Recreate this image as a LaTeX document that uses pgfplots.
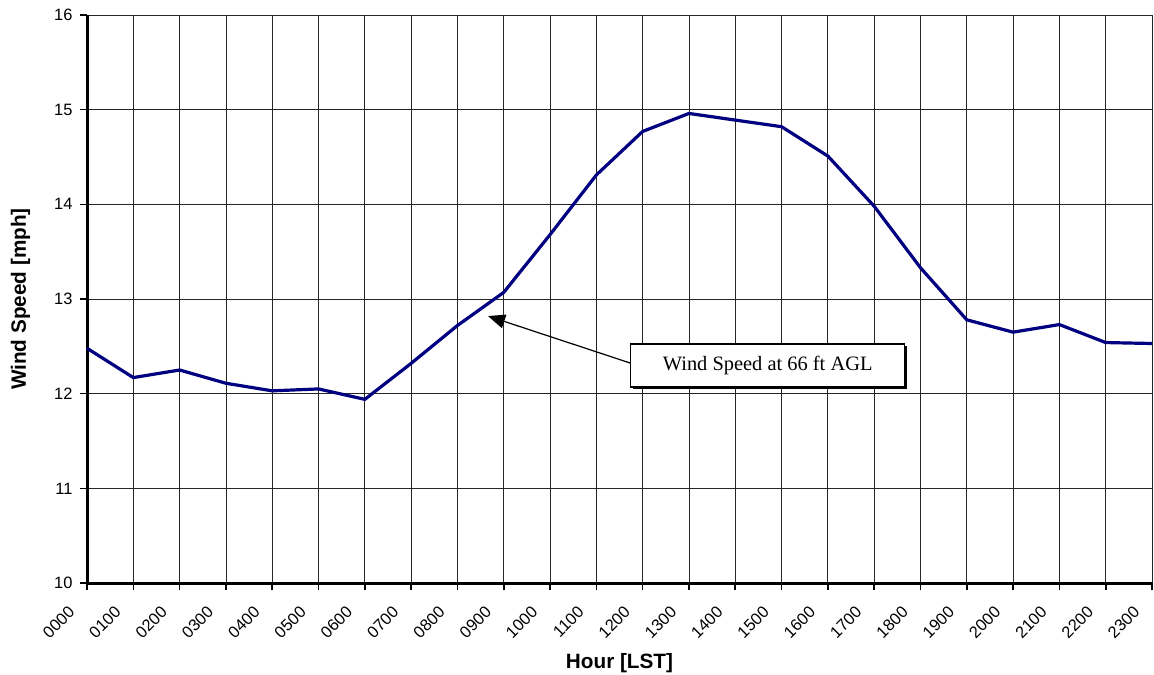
\documentclass[border=0pt]{standalone}
\usepackage{pgfplots}
\pgfplotsset{compat=1.18}
\usepackage{fontspec}
\setmainfont{Liberation Sans}
\newfontfamily\timesfont{Liberation Serif}
\usetikzlibrary{arrows.meta,shadows}
\definecolor{navyline}{RGB}{0,0,128}

\begin{document}
\begin{tikzpicture}
    \begin{axis}[
            scale only axis,
            width = 1065bp, height = 568bp,
            xmin = 0, xmax = 23, %
            ymin = 10, ymax = 16, %
            xtick = {0,...,23},
            xticklabels = {0000,0100,0200,0300,0400,0500,0600,0700,0800,0900,1000,1100,1200,1300,1400,1500,1600,1700,1800,1900,2000,2100,2200,2300},
            ytick = {10,...,16},
            axis x line = bottom, axis y line = left,
            axis line style = {-, black, line width=3bp},
            tick align = outside,
            major tick length = 7bp,
            tick style = {black, line width=1.6bp},
            grid = major,
            major grid style = {black!85, line width=0.8bp},
            /pgf/number format/assume math mode=true,
            yticklabel style = {font=\fontsize{16.5}{18}\selectfont, xshift=-4bp},
            xticklabel style = {font=\fontsize{16.5}{18}\selectfont, anchor=east, xshift=-13bp, yshift=-17bp, rotate=45},
            xlabel = {\bfseries Hour [LST]},
            ylabel = {\bfseries Wind Speed [mph]},
            every axis x label/.style = {at={(axis description cs:0.5,0)}, anchor=center, yshift=-80bp, font=\fontsize{20.8}{24}\selectfont},
            every axis y label/.style = {at={(axis description cs:0,0.5)}, anchor=center, xshift=-66.5bp, rotate=90, font=\fontsize{20.8}{24}\selectfont},
            clip = false,
        ]
        %% hourly mean wind speed at 66 ft
        \addplot[navyline, line width=3.2bp] coordinates {
                (0, 12.48) (1, 12.17) (2, 12.25) (3, 12.11) (4, 12.03) (5, 12.05)
                (6, 11.94) (7, 12.32) (8, 12.72) (9, 13.07) (10, 13.68) (11, 14.31)
                (12, 14.77) (13, 14.96) (14, 14.89) (15, 14.82) (16, 14.51) (17, 13.98)
                (18, 13.33) (19, 12.78) (20, 12.65) (21, 12.73) (22, 12.54) (23, 12.53)
            };
        %% callout
        \draw[black, line width=1.2bp, -{Triangle[length=17bp,width=14bp]}] (axis cs:11.73,12.324) -- (axis cs:8.66,12.82);
        \node[draw=black, line width=1.2bp, fill=white, drop shadow={shadow xshift=2bp, shadow yshift=-2bp, fill=black, opacity=1},
              minimum width=274bp, minimum height=43bp, font=\timesfont\fontsize{20.5}{24}\selectfont]
              at (axis cs:14.70,12.298) {Wind Speed at 66 ft AGL};
    \end{axis}
    \pgfresetboundingbox
    \useasboundingbox ([shift={(-87bp,-91bp)}]current axis.south west) rectangle ([shift={(2bp,15bp)}]current axis.north east);
\end{tikzpicture}
\end{document}
